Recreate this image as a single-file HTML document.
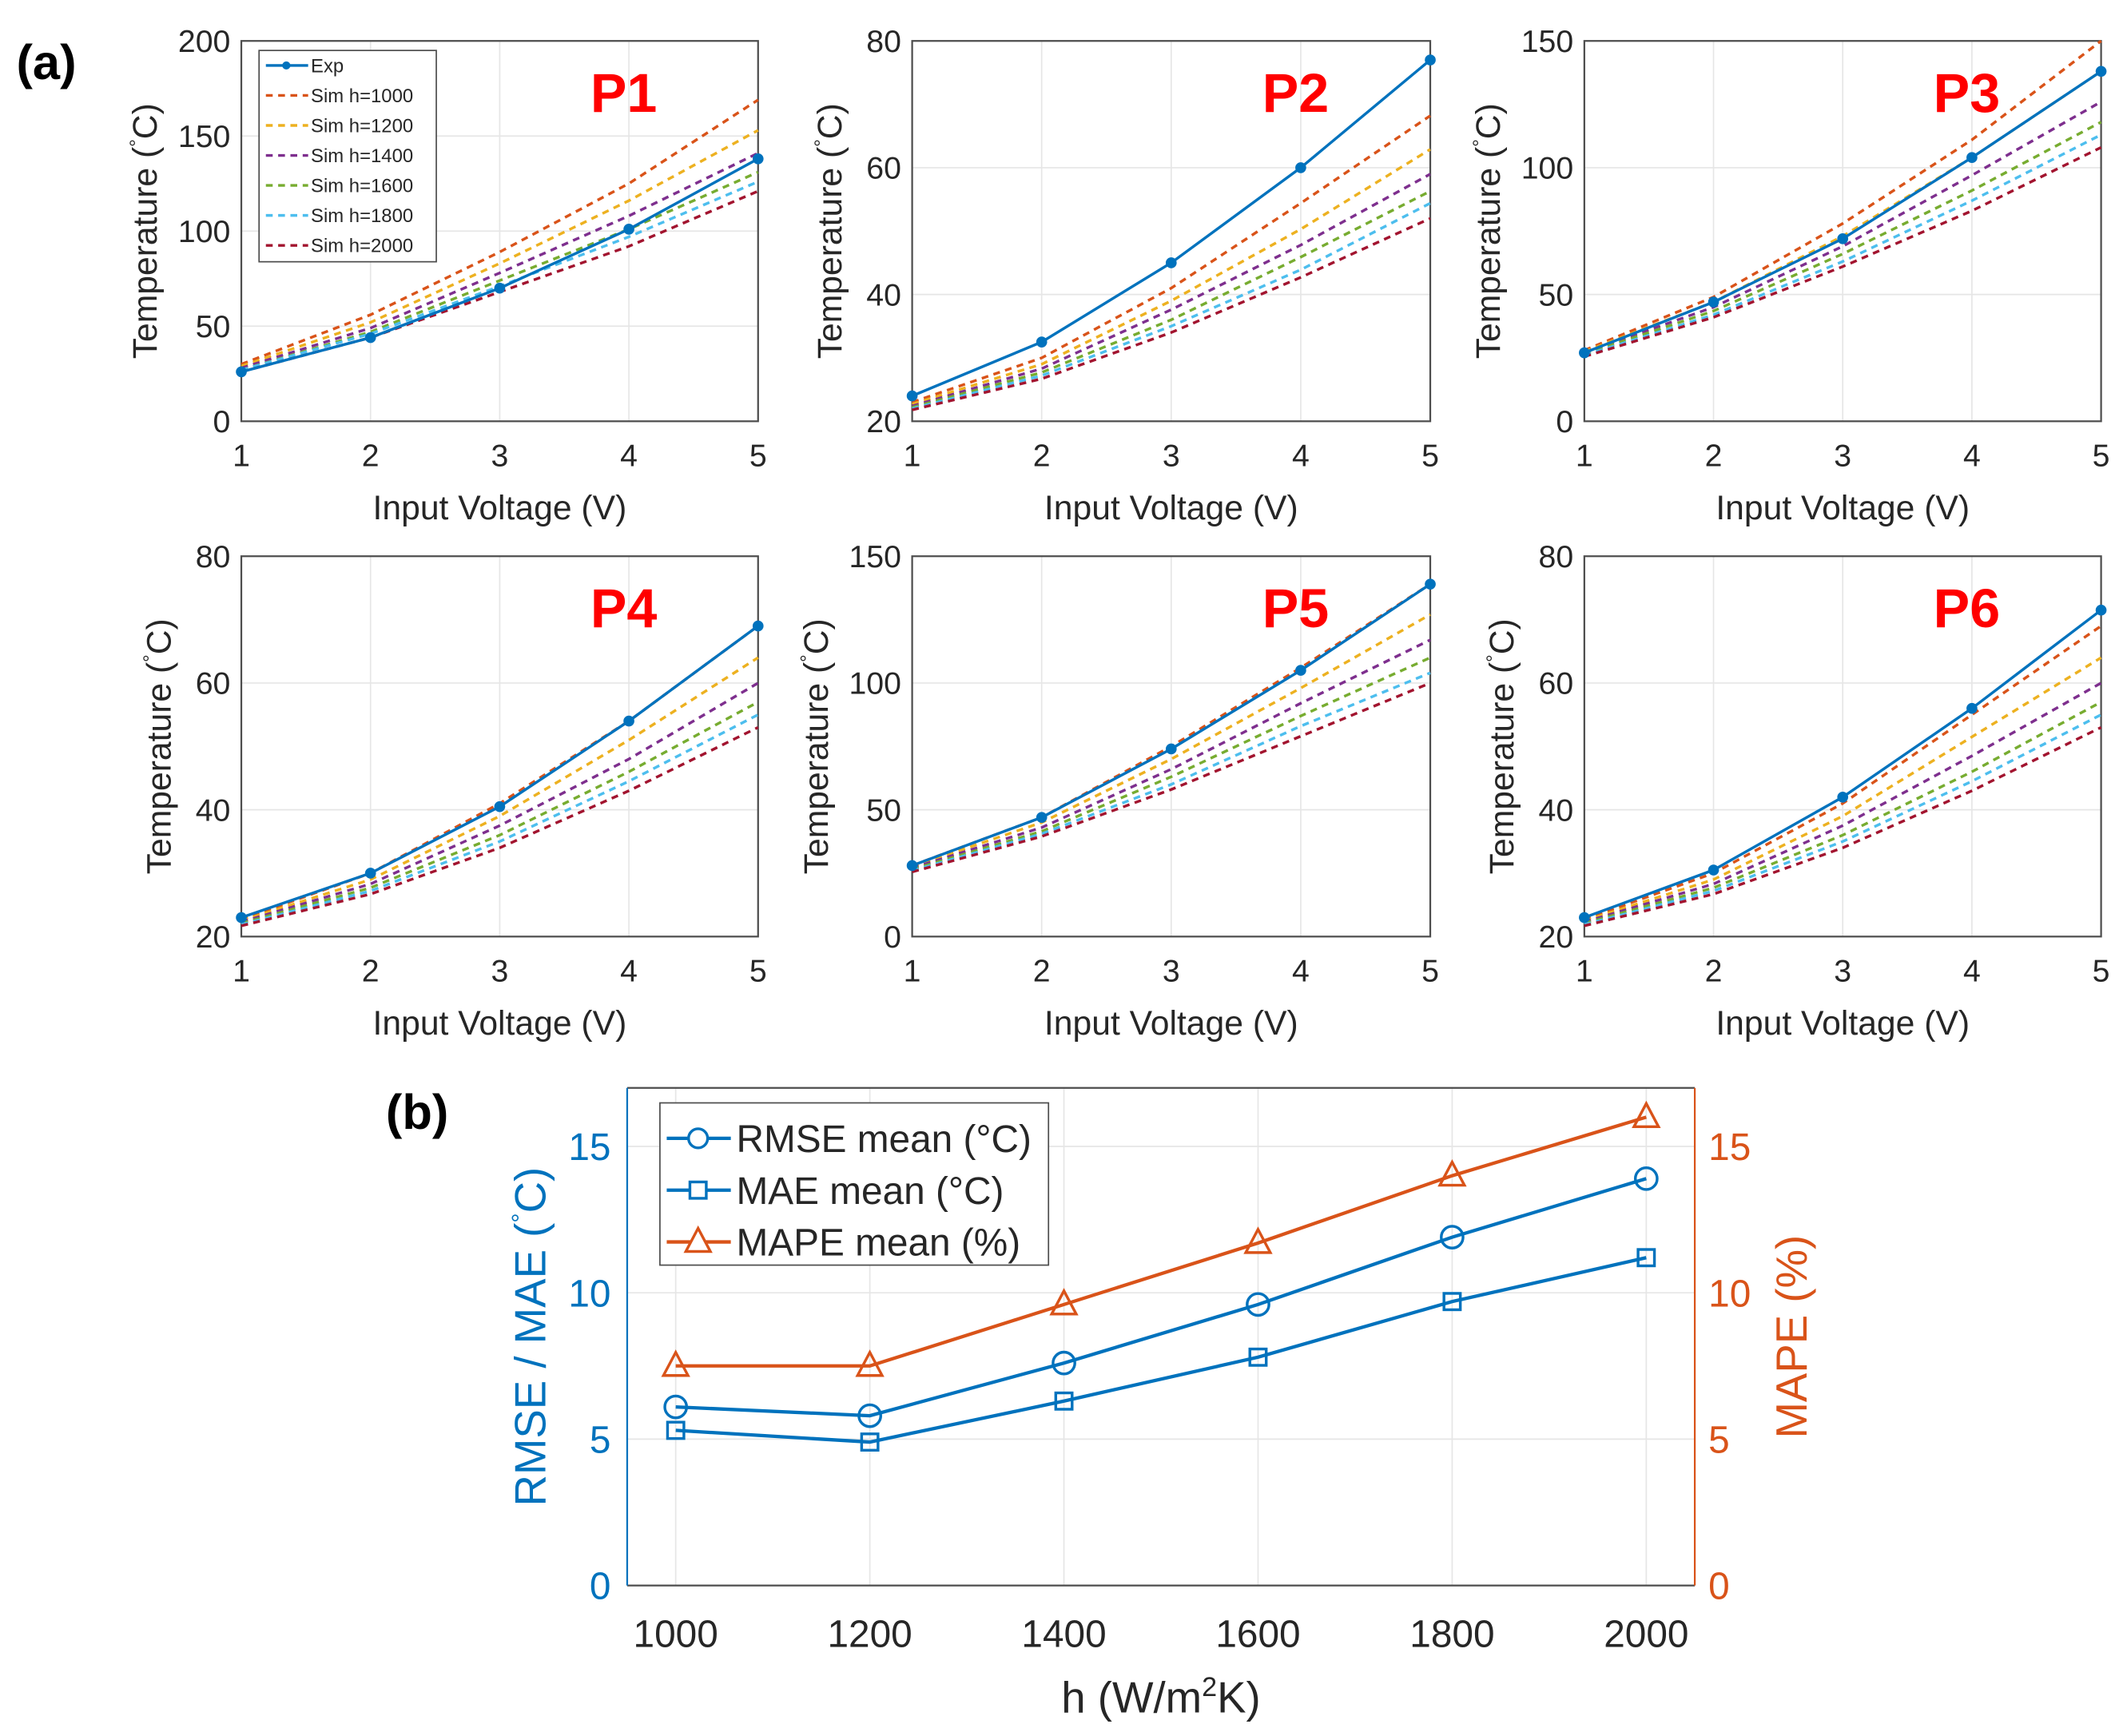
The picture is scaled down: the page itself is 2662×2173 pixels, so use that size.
<!DOCTYPE html>
<html><head><meta charset="utf-8"><style>
html,body{margin:0;padding:0;background:#fff}
svg{display:block}
text{font-family:"Liberation Sans",sans-serif}
</style></head><body>
<svg id="fig" xmlns="http://www.w3.org/2000/svg" width="2662" height="2173" viewBox="0 0 1560 1273.4">
<rect width="1560" height="1274" fill="#fff"/>
</svg>
<script>
const xVolt = [1,2,3,4,5];
const simLabels = ["Sim h=1000","Sim h=1200","Sim h=1400","Sim h=1600","Sim h=1800","Sim h=2000"];
const panelNames = ["P1","P2","P3","P4","P5","P6"];
const yTicksA = [[0,50,100,150,200],[20,40,60,80],[0,50,100,150],[20,40,60,80],[0,50,100,150],[20,40,60,80]];
const expP1=[26,44,70,101,138];
const expP2=[24,32.5,45,60,77];
const expP3=[27,47,72,104,138];
const expP4=[23,30,40.5,54,69];
const expP5=[28,47,74,105,139];
const expP6=[23,30.5,42,56,71.5];
const simP1=[[30,56,89,125,169],[29,52,83,116,153],[28,49,78,108,141],[27,47,74,101,131],[27,46,71,97,126],[26,44,68,92,121]];
const simP2=[[23,30,41,54.4,68.2],[22.7,29,39,50.3,62.9],[22.4,28.3,37.6,47.8,59],[22.2,27.7,36,45.9,56.3],[22,27.2,35,43.9,54.4],[21.8,26.7,34,42.7,52]];
const simP3=[[28,49,78,111,150],[27.5,47,73,104,138],[27,45,69,97,126],[26.5,43.5,66,91,118],[26,42,63,87,113],[25.5,41,61,83,108]];
const simP4=[[22.7,30,41,54,69],[22.5,29,39,51,64],[22.3,28.3,37.5,48,60],[22.1,27.7,36,46,57],[21.9,27.2,35,44.5,55],[21.7,26.7,34,43,53]];
const simP5=[[28,47,75,106,139],[27.5,45,70,98,127],[27,43,66,92,117],[26.5,41.5,63,87,110],[26,40.5,60,83,104],[25.5,39.5,58,79,100]];
const simP6=[[22.7,30,41,55,69],[22.5,29,39,51.5,64],[22.3,28.3,37.5,48.5,60],[22.1,27.7,36,46,57],[21.9,27.2,35,44.5,55],[21.7,26.7,34,43,53]];
const hVals=[1000,1200,1400,1600,1800,2000];
const rmse=[6.1,5.8,7.6,9.6,11.9,13.9];
const mae=[5.3,4.9,6.3,7.8,9.7,11.2];
const mape=[7.5,7.5,9.6,11.7,14.0,16.0];
const yTicksB=[0,5,10,15];

const NS="http://www.w3.org/2000/svg";
const svg=document.getElementById('fig');
const C=["#0072BD","#D95319","#EDB120","#7E2F8E","#77AC30","#4DBEEE","#A2142F"];
function mk(tag,attrs,parent){const e=document.createElementNS(NS,tag);for(const k in attrs)e.setAttribute(k,attrs[k]);(parent||svg).appendChild(e);return e;}
function txt(s,attrs,parent){const e=mk('text',attrs,parent);e.textContent=s;return e;}

const exps=[expP1,expP2,expP3,expP4,expP5,expP6];
const sims=[simP1,simP2,simP3,simP4,simP5,simP6];
const cols=[[177,556],[669,1049],[1162,1541]];
const rows=[[30,309],[408,687]];
for(let p=0;p<6;p++){
  const [x0,x1]=cols[p%3];const [y0,y1]=rows[Math.floor(p/3)];
  const g=mk('g',{});
  
  
  const t=yTicksA[p];const ymin=t[0],ymax=t[t.length-1];
  const sx=v=>x0+(v-1)/4*(x1-x0);
  const sy=v=>y1-(v-ymin)/(ymax-ymin)*(y1-y0);
  mk('rect',{x:x0,y:y0,width:x1-x0,height:y1-y0,fill:'#fff'},g);
  xVolt.forEach(v=>{
    mk('line',{x1:sx(v),x2:sx(v),y1:y0,y2:y1,stroke:'#e6e6e6','stroke-width':1},g);
    const tl=txt(String(v),{x:sx(v),y:y1+33,'font-size':23,'text-anchor':'middle',fill:'#262626'},g);
    
    
  });
  t.forEach(v=>{
    mk('line',{x1:x0,x2:x1,y1:sy(v),y2:sy(v),stroke:'#e6e6e6','stroke-width':1},g);
    const tl=txt(String(v),{x:x0-8,y:sy(v)+8,'font-size':23,'text-anchor':'end',fill:'#262626'},g);
    
    
  });
  mk('rect',{x:x0,y:y0,width:x1-x0,height:y1-y0,fill:'none',stroke:'#4d4d4d','stroke-width':1.3},g);
  sims[p].forEach((s,i)=>{
    const pl=mk('polyline',{points:s.map((v,j)=>sx(xVolt[j])+','+sy(v)).join(' '),fill:'none',stroke:C[i+1],'stroke-width':2,'stroke-dasharray':'5 4'},g);
    
    
  });
  const el=mk('polyline',{points:exps[p].map((v,j)=>sx(xVolt[j])+','+sy(v)).join(' '),fill:'none',stroke:C[0],'stroke-width':2},g);
  
  
  exps[p].forEach((v,j)=>{
    const m=mk('circle',{cx:sx(xVolt[j]),cy:sy(v),r:3.5,fill:C[0],stroke:C[0]},g);
    
    
  });
  const pt=txt(panelNames[p],{x:x0+(x1-x0)*0.74,y:y0+52,'font-size':40,'font-weight':'bold',fill:'#ff0000','text-anchor':'middle'},g);
  
  
  const xl=txt('Input Voltage (V)',{x:(x0+x1)/2,y:y1+72,'font-size':25,'text-anchor':'middle',fill:'#262626'},g);
  
  
  const lx=x0-(t[t.length-1]>=100?62:52), ly=(y0+y1)/2;
  const yl=txt('',{transform:`translate(${lx},${ly}) rotate(-90)`,'font-size':25,'text-anchor':'middle',fill:'#262626'},g);
  
  
  yl.innerHTML='Temperature (<tspan dy="-10" font-size="14">°</tspan><tspan dy="10">C)</tspan>';
}
{
  const g=mk('g',{});
  
  
  mk('rect',{x:190,y:37,width:130,height:155,fill:'#fff',stroke:'#4d4d4d','stroke-width':1},g);
  const labels=['Exp'].concat(simLabels);
  labels.forEach((l,i)=>{
    const y=48+i*22;
    mk('line',{x1:195,x2:226,y1:y,y2:y,stroke:C[i],'stroke-width':2,'stroke-dasharray':i?'5 4':'none'},g);
    if(!i)mk('circle',{cx:210,cy:y,r:3,fill:C[0]},g);
    const e=txt(l,{x:228,y:y+5,'font-size':14,fill:'#262626'},g);
    
    
  });
}
const la=txt('(a)',{x:12,y:58,'font-size':36,'font-weight':'bold',fill:'#000'});



{
  const x0=460,x1=1243,y0=798,y1=1163;
  const g=mk('g',{});
  
  
  const sx=v=>x0+(v-950)/1100*(x1-x0);
  const sy=v=>y1-v/17*(y1-y0);
  hVals.forEach(v=>{
    mk('line',{x1:sx(v),x2:sx(v),y1:y0,y2:y1,stroke:'#e6e6e6'},g);
    const e=txt(String(v),{x:sx(v),y:y1+45,'font-size':28,'text-anchor':'middle',fill:'#262626'},g);
    
    
  });
  yTicksB.forEach(v=>{
    mk('line',{x1:x0,x2:x1,y1:sy(v),y2:sy(v),stroke:'#e6e6e6'},g);
    const a=txt(String(v),{x:x0-12,y:sy(v)+10,'font-size':28,'text-anchor':'end',fill:'#0072BD'},g);
    
    
    const b=txt(String(v),{x:x1+10,y:sy(v)+10,'font-size':28,'text-anchor':'start',fill:'#D95319'},g);
    
    
  });
  mk('line',{x1:x0,x2:x1,y1:y1,y2:y1,stroke:'#4d4d4d','stroke-width':1.3},g);
  mk('line',{x1:x0,x2:x1,y1:y0,y2:y0,stroke:'#4d4d4d','stroke-width':1.3},g);
  mk('line',{x1:x0,x2:x0,y1:y0,y2:y1,stroke:'#0072BD','stroke-width':1.3},g);
  mk('line',{x1:x1,x2:x1,y1:y0,y2:y1,stroke:'#D95319','stroke-width':1.3},g);
  const series=[[rmse,C[0],'circle','rmse'],[mae,C[0],'square','mae'],[mape,C[1],'triangle','mape']];
  series.forEach(([d,c,m,n])=>{
    const pl=mk('polyline',{points:d.map((v,j)=>sx(hVals[j])+','+sy(v)).join(' '),fill:'none',stroke:c,'stroke-width':2.5},g);
    
    
    d.forEach((v,j)=>{
      const cx=sx(hVals[j]),cy=sy(v);let e;
      if(m==='circle')e=mk('circle',{cx,cy,r:8,fill:'none',stroke:c,'stroke-width':2},g);
      else if(m==='square')e=mk('rect',{x:cx-6,y:cy-6,width:12,height:12,fill:'none',stroke:c,'stroke-width':2},g);
      else e=mk('polygon',{points:`${cx},${cy-10} ${cx-9},${cy+7} ${cx+9},${cy+7}`,fill:'none',stroke:c,'stroke-width':2},g);
      
      
    });
  });
  const lg=mk('g',{},g);
  
  
  mk('rect',{x:484,y:809,width:285,height:119,fill:'#fff',stroke:'#4d4d4d','stroke-width':1},lg);
  const ll=['RMSE mean (°C)','MAE mean (°C)','MAPE mean (%)'];
  ll.forEach((l,i)=>{
    const y=835+i*38,c=i<2?C[0]:C[1];
    mk('line',{x1:489,x2:536,y1:y,y2:y,stroke:c,'stroke-width':2.5},lg);
    if(i===0)mk('circle',{cx:512,cy:y,r:7,fill:'#fff',stroke:c,'stroke-width':2},lg);
    else if(i===1)mk('rect',{x:506,y:y-6,width:12,height:12,fill:'#fff',stroke:c,'stroke-width':2},lg);
    else mk('polygon',{points:`512,${y-10} 503,${y+7} 521,${y+7}`,fill:'#fff',stroke:c,'stroke-width':2},lg);
    const e=txt(l,{x:540,y:y+10,'font-size':28,fill:'#262626'},lg);
    
    
  });
  const yl=txt('',{transform:`translate(400,${(y0+y1)/2}) rotate(-90)`,'font-size':32,'text-anchor':'middle',fill:'#0072BD'},g);
  
  
  yl.innerHTML='RMSE / MAE (<tspan dy="-12" font-size="18">°</tspan><tspan dy="12">C)</tspan>';
  const yr=txt('MAPE (%)',{transform:`translate(1325,${(y0+y1)/2}) rotate(-90)`,'font-size':32,'text-anchor':'middle',fill:'#D95319'},g);
  
  
  const xl=txt('',{x:(x0+x1)/2,y:1256,'font-size':32,'text-anchor':'middle',fill:'#262626'},g);
  
  
  xl.innerHTML='h (W/m<tspan dy="-12" font-size="20">2</tspan><tspan dy="12">K)</tspan>';
  const lb=txt('(b)',{x:283,y:828,'font-size':36,'font-weight':'bold',fill:'#000'});
  
  
}
</script>
</body></html>
